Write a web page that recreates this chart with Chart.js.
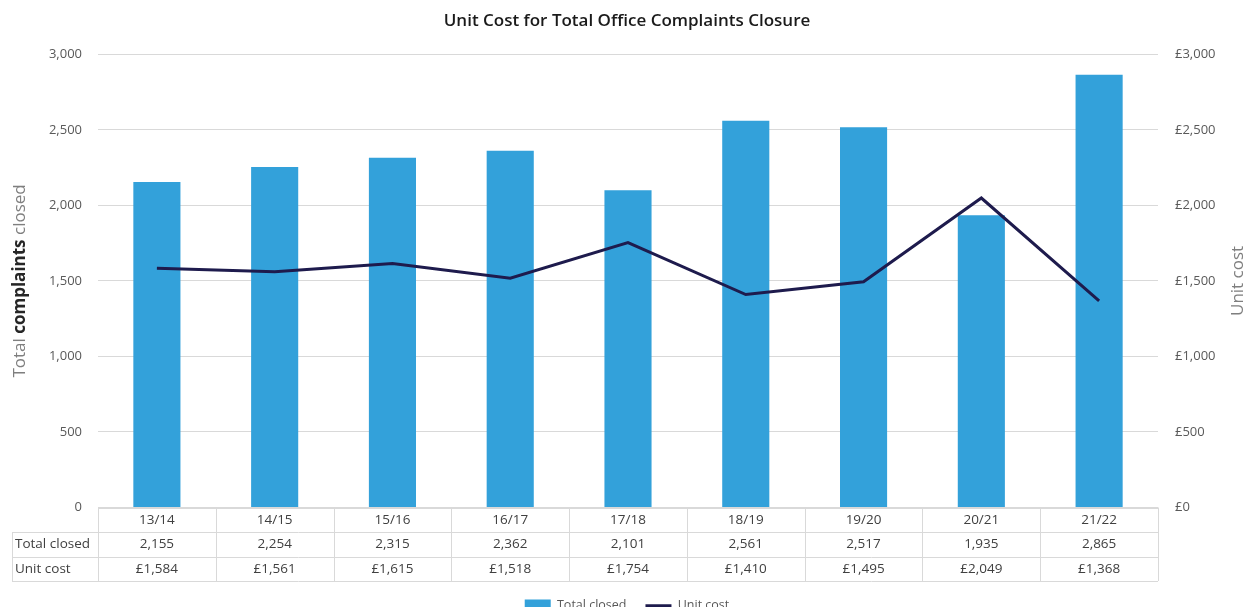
<!DOCTYPE html>
<html>
<head>
<meta charset="utf-8">
<title>Unit Cost for Total Office Complaints Closure</title>
<script src="https://cdn.jsdelivr.net/npm/chart.js@4.4.0/dist/chart.umd.min.js"></script>
<style>
  html, body { margin: 0; padding: 0; background: #fff; overflow: hidden; }
  #wrap { width: 1254px; height: 622px; }
</style>
</head>
<body>
<div id="wrap"><canvas id="unit-cost-chart"></canvas></div>
<script>
const years = ["13/14", "14/15", "15/16", "16/17", "17/18", "18/19", "19/20", "20/21", "21/22"];
const totalClosed = [2155, 2254, 2315, 2362, 2101, 2561, 2517, 1935, 2865];
const unitCost = [1584, 1561, 1615, 1518, 1754, 1410, 1495, 2049, 1368];
const axisTicks = [0, 500, 1000, 1500, 2000, 2500, 3000];

const FONT = "'Open Sans', 'Noto Sans', sans-serif";
const TEXT = "#595959";
const GRID = "#d9d9d9";
const BAR = "#33a1da";
const LINE = "#1e1b4d";

const fmt = v => v.toLocaleString("en-GB");
const money = v => "£" + v.toLocaleString("en-GB");

// data table under the x axis + the two rotated axis titles
const tablePlugin = {
    id: "dataTable",
    afterDraw(chart) {
        const { ctx, chartArea } = chart;
        const x = chart.scales.x;
        const step = x.getPixelForValue(1) - x.getPixelForValue(0);
        const left = x.getPixelForValue(0) - step / 2;
        const right = x.getPixelForValue(years.length - 1) + step / 2;
        const rowH = 24.5;
        const y0 = chartArea.bottom;
        const rows = [y0, y0 + rowH, y0 + rowH * 2, y0 + rowH * 3];
        const labelLeft = 12;

        ctx.save();
        ctx.strokeStyle = GRID;
        ctx.lineWidth = 1;
        ctx.beginPath();
        const px = v => Math.round(v) + 0.5;
        ctx.moveTo(left, px(rows[0])); ctx.lineTo(right, px(rows[0]));
        for (let r = 1; r < rows.length; r++) {
            ctx.moveTo(labelLeft, px(rows[r])); ctx.lineTo(right, px(rows[r]));
        }
        ctx.moveTo(px(labelLeft), rows[1]); ctx.lineTo(px(labelLeft), rows[3]);
        for (let i = 0; i <= years.length; i++) {
            const cx = px(left + step * i);
            ctx.moveTo(cx, rows[0]); ctx.lineTo(cx, rows[3]);
        }
        ctx.stroke();

        ctx.fillStyle = "#404040";
        ctx.font = "13.5px " + FONT;
        ctx.textBaseline = "middle";
        ctx.textAlign = "left";
        ctx.fillText("Total closed", labelLeft + 3, (rows[1] + rows[2]) / 2);
        ctx.fillText("Unit cost", labelLeft + 3, (rows[2] + rows[3]) / 2);
        ctx.textAlign = "center";
        years.forEach((y, i) => {
            const cx = x.getPixelForValue(i);
            ctx.fillText(y, cx, (rows[0] + rows[1]) / 2);
            ctx.fillText(fmt(totalClosed[i]), cx, (rows[1] + rows[2]) / 2);
            ctx.fillText(money(unitCost[i]), cx, (rows[2] + rows[3]) / 2);
        });

        // left title: "Total complaints closed" with the middle word in bold
        const midY = (chartArea.top + chartArea.bottom) / 2;
        const parts = [
            { t: "Total ", f: "17px " + FONT, c: "#7f7f7f" },
            { t: "complaints", f: "bold 17px " + FONT, c: "#262626" },
            { t: " closed", f: "17px " + FONT, c: "#7f7f7f" }
        ];
        let total = 0;
        parts.forEach(p => { ctx.font = p.f; p.w = ctx.measureText(p.t).width; total += p.w; });
        ctx.translate(20, midY);
        ctx.rotate(-Math.PI / 2);
        ctx.textAlign = "left";
        let pos = -total / 2;
        parts.forEach(p => { ctx.font = p.f; ctx.fillStyle = p.c; ctx.fillText(p.t, pos, 0); pos += p.w; });
        ctx.setTransform(1, 0, 0, 1, 0, 0);

        ctx.translate(1238, midY);
        ctx.rotate(-Math.PI / 2);
        ctx.textAlign = "center";
        ctx.font = "17px " + FONT;
        ctx.fillStyle = "#7f7f7f";
        ctx.fillText("Unit cost", 0, 0);
        ctx.restore();
    }
};

const setTicks = scale => { scale.ticks = axisTicks.map(v => ({ value: v })); };

new Chart(document.getElementById("unit-cost-chart"), {
    type: "bar",
    data: {
        labels: years,
        datasets: [{
            type: "line",
            label: "Unit cost",
            data: unitCost,
            yAxisID: "y1",
            borderColor: LINE,
            backgroundColor: LINE,
            borderWidth: 3,
            pointRadius: 0,
            pointStyle: "line",
            tension: 0,
            order: 0
        }, {
            label: "Total closed",
            data: totalClosed,
            yAxisID: "y",
            backgroundColor: BAR,
            borderWidth: 0,
            barPercentage: 0.4,
            categoryPercentage: 1,
            pointStyle: "rect",
            order: 1
        }]
    },
    options: {
        responsive: true,
        maintainAspectRatio: false,
        animation: false,
        layout: { padding: { left: 0, right: 0, top: 0, bottom: 0 } },
        plugins: {
            title: {
                display: true,
                text: "Unit Cost for Total Office Complaints Closure",
                color: "#1a1a1a",
                font: { family: FONT, size: 17, weight: "600" },
                padding: { top: 11, bottom: 23 }
            },
            legend: {
                position: "bottom",
                reverse: true,
                labels: {
                    usePointStyle: true,
                    pointStyleWidth: 26,
                    color: TEXT,
                    font: { family: FONT, size: 12.5 },
                    padding: 19
                }
            },
            tooltip: { enabled: false }
        },
        scales: {
            x: {
                grid: { display: false },
                border: { display: false },
                ticks: { display: false },
                afterFit: s => { s.height = 73; }
            },
            y: {
                position: "left",
                min: 0, max: 3000,
                afterBuildTicks: setTicks,
                grid: { color: GRID, drawTicks: false },
                border: { display: false },
                ticks: { color: TEXT, padding: 16, font: { family: FONT, size: 13 }, callback: v => fmt(v) },
                afterFit: s => { s.width = 98; }
            },
            y1: {
                position: "right",
                min: 0, max: 3000,
                afterBuildTicks: setTicks,
                grid: { display: false, drawTicks: false },
                border: { display: false },
                ticks: { color: TEXT, padding: 17, font: { family: FONT, size: 13 }, callback: v => money(v) },
                afterFit: s => { s.width = 96; }
            }
        }
    },
    plugins: [tablePlugin]
});
</script>
</body>
</html>
